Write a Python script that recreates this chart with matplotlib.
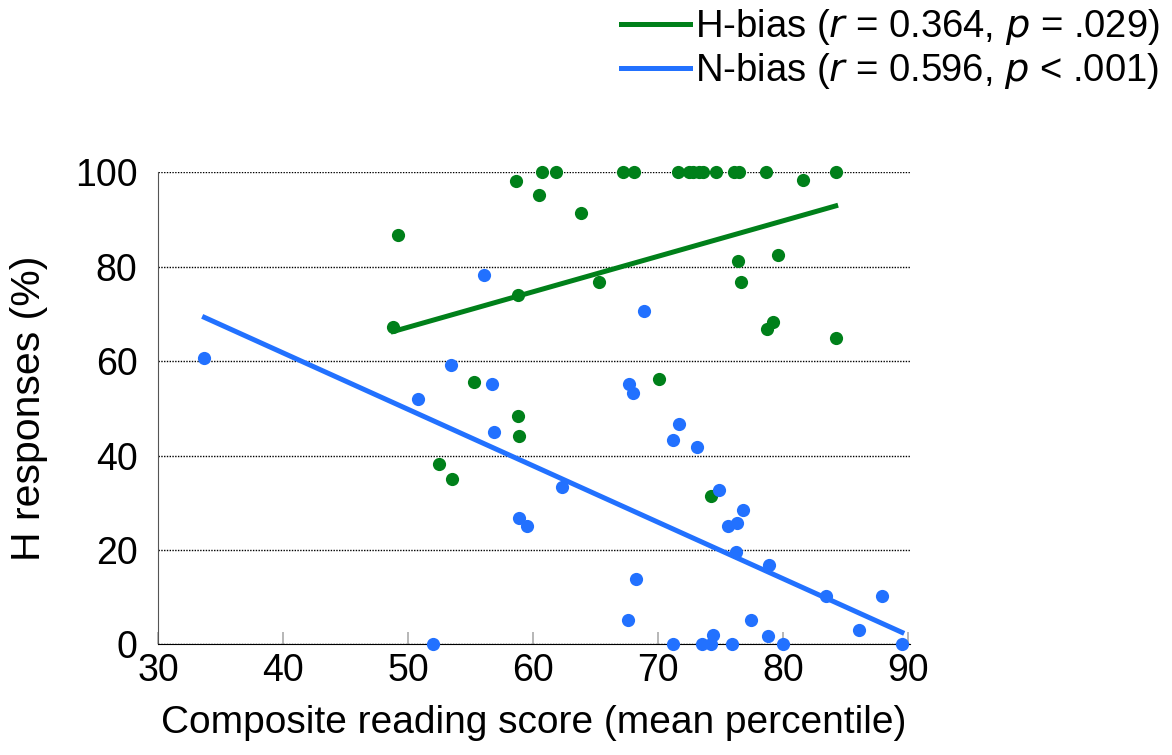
import numpy as np
import matplotlib
matplotlib.use("Agg")
import matplotlib.pyplot as plt

plt.rcParams['font.family'] = ['Liberation Sans', 'DejaVu Sans']

# H-bias group: composite reading score vs H responses
h_score = [48.8, 49.2, 58.6, 60.7, 60.5, 58.8, 55.3, 58.8, 58.9, 52.5, 53.5,
           61.8, 67.2, 68.1, 71.6, 72.5, 72.8, 73.3, 73.6, 74.6, 76.1, 76.5,
           78.6, 84.2, 81.6, 63.8, 65.3, 76.4, 76.6, 79.6, 79.2, 78.7, 84.2,
           70.1, 74.2]
h_resp = [67.2, 86.8, 98.1, 100, 95.1, 73.9, 55.5, 48.4, 44.1, 38.3, 35.0,
          100, 100, 100, 100, 100, 100, 100, 100, 100, 100, 100,
          100, 100, 98.3, 91.4, 76.7, 81.3, 76.7, 82.5, 68.3, 66.7, 65.0,
          56.2, 31.4]

# N-bias group
n_score = [33.7, 56.1, 53.4, 56.7, 50.8, 56.9, 58.9, 59.5, 52.0, 68.9, 67.7,
           68.0, 71.7, 71.2, 73.1, 62.3, 74.9, 76.8, 76.3, 75.6, 76.2, 78.9,
           68.2, 83.4, 87.9, 67.6, 77.4, 86.1, 74.4, 78.8, 71.2, 73.5, 74.2,
           75.9, 80.0, 89.5]
n_resp = [60.7, 78.3, 59.1, 55.1, 52.0, 45.0, 26.7, 25.1, 0, 70.6, 55.1,
          53.3, 46.7, 43.3, 41.7, 33.3, 32.6, 28.4, 25.6, 25.1, 19.6, 16.9,
          13.8, 10.2, 10.2, 5.1, 5.1, 3.0, 2.0, 1.7, 0, 0, 0,
          0, 0, 0]

h_label = 'H-bias ($\\it{r}$ = 0.364, $\\it{p}$ = .029)'
n_label = 'N-bias ($\\it{r}$ = 0.596, $\\it{p}$ < .001)'

green = '#00801a'
blue = '#2271ff'


def fit_line(x, y):
    x = np.asarray(x)
    slope, icpt = np.polyfit(x, y, 1)
    xs = np.array([x.min(), x.max()])
    return xs, slope * xs + icpt


fig = plt.figure(figsize=(11.72, 7.55), dpi=100)
ax = fig.add_axes([0.135, 0.1466, 0.6415, 0.6252])

for sc, rs, col, lab in [(h_score, h_resp, green, h_label),
                         (n_score, n_resp, blue, n_label)]:
    ax.plot(sc, rs, 'o', color=col, ms=9.5, mec='none', clip_on=False, zorder=3)
    xs, ys = fit_line(sc, rs)
    ax.plot(xs, ys, '-', color=col, lw=3.6, label=lab, clip_on=False, zorder=2)

ax.set_xlim(30, 90.15)
ax.set_ylim(0, 100)
ax.set_xticks(range(30, 91, 10))
ax.set_yticks(range(0, 101, 20))

ax.yaxis.grid(True, color='black', linestyle=(0, (1, 1)), lw=1.0)
ax.set_axisbelow(True)

for s in ['top', 'right']:
    ax.spines[s].set_visible(False)
ax.spines['left'].set_color('#555555')
ax.spines['bottom'].set_color('black')

ax.tick_params(axis='x', direction='in', length=9, color='#aaaaaa', width=1.2,
               labelsize=27, pad=6)
ax.tick_params(axis='y', length=0, labelsize=27, pad=15)

ax.set_xlabel('Composite reading score (mean percentile)', fontsize=28, labelpad=12)
ax.set_ylabel('H responses (%)', fontsize=29.5, labelpad=19)

fig.legend(loc='upper right', bbox_to_anchor=(1.009, 1.021), frameon=False,
           fontsize=27.5, handlelength=1.8, handletextpad=0.12, labelspacing=0.1,
           borderaxespad=0.2)

fig.savefig('out.png', dpi=100)
